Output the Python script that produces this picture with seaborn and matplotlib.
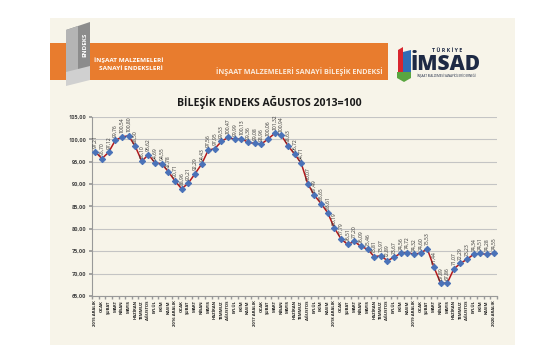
import numpy as np
import pandas as pd
import matplotlib.pyplot as plt
import seaborn as sns
from matplotlib.patches import Rectangle, Polygon

# bileşik endeks (Ağustos 2013=100), Aralık 2015 - Aralık 2020
index_values = [97.21, 95.70, 97.12, 99.76, 100.54, 100.80, 98.50, 95.10, 96.62, 94.69,
                94.55, 92.78, 90.71, 88.96, 90.21, 92.29, 94.43, 97.56, 97.95, 99.53,
                100.47, 99.99, 100.13, 99.36, 99.08, 98.96, 100.06, 101.32, 100.94, 98.63,
                96.72, 94.71, 90.07, 87.49, 85.65, 83.61, 80.19, 77.79, 76.51, 77.20,
                76.09, 75.46, 73.81, 73.97, 72.89, 73.67, 74.56, 74.72, 74.32, 74.60,
                75.53, 71.44, 67.89, 67.86, 71.07, 72.29, 73.23, 74.34, 74.51, 74.28,
                74.55]
years = [2015, 2016, 2017, 2018, 2019, 2020]
month_names = ["OCAK", "ŞUBAT", "MART", "NİSAN", "MAYIS", "HAZİRAN", "TEMMUZ",
               "AĞUSTOS", "EYLÜL", "EKİM", "KASIM"]
tick_labels = []
for y in years:
    tick_labels.append(f"{y} ARALIK")
    if y != years[-1]:
        tick_labels += month_names

y_ticks = [65, 70, 75, 80, 85, 90, 95, 100, 105]

df = pd.DataFrame({"idx": range(len(index_values)), "value": index_values})

sns.set_theme(style="white")
plt.rcParams['font.family'] = ['Open Sans', 'DejaVu Sans']

W, H = 555, 355
fig = plt.figure(figsize=(W / 100, H / 100), dpi=100)
fig.patch.set_facecolor('white')


def fx(px):
    return px / W


def fy(py):
    return 1 - py / H


def rect(x0, y0, x1, y1, color, z=0):
    fig.patches.append(Rectangle((fx(x0), fy(y1)), fx(x1) - fx(x0), fy(y0) - fy(y1),
                                 transform=fig.transFigure, color=color, zorder=z, lw=0))


def poly(pts, color, z=1):
    fig.patches.append(Polygon([(fx(a), fy(b)) for a, b in pts], closed=True,
                               transform=fig.transFigure, color=color, zorder=z, lw=0))


# slide background + header band
rect(50, 18, 515, 345, '#f7f4e9', z=-2)
rect(50, 43, 388, 80, '#e87c2e', z=-1)

# ENDEKS logo
poly([(66, 30), (90, 22), (90, 78), (66, 84)], '#8c8c8c', z=1)
poly([(66, 30), (78, 26), (78, 80), (66, 84)], '#b4b4b4', z=2)
poly([(66, 72), (90, 66), (90, 80), (66, 86)], '#d0d0d0', z=2)
fig.text(fx(85), fy(45), "ENDEKS", rotation=90, color='white', fontsize=4.5,
         fontweight='bold', ha='center', va='center', zorder=4)
fig.text(fx(129), fy(60), "İNŞAAT MALZEMELERİ", color='white', fontsize=4.6,
         fontweight='bold', ha='center', va='center', zorder=4)
fig.text(fx(131), fy(69), "SANAYİ ENDEKSLERİ", color='white', fontsize=4.6,
         fontweight='bold', ha='center', va='center', zorder=4)
fig.text(fx(299), fy(72), "İNŞAAT MALZEMELERİ SANAYİ BİLEŞİK ENDEKSİ", color='#fbe9d8',
         fontsize=5.2, fontweight='bold', ha='center', va='center', zorder=4)

# IMSAD logo
poly([(398, 50), (403, 47), (403, 72), (398, 72)], '#d8262e', z=1)
poly([(403, 52), (411, 50), (411, 72), (403, 72)], '#2f6db5', z=1)
poly([(397, 72), (411, 72), (411, 78), (404, 82), (397, 78)], '#5aa640', z=1)
fig.text(fx(447), fy(50), "T Ü R K İ Y E", color='#1e2a45', fontsize=3.8,
         fontweight='bold', ha='center', va='center')
fig.text(fx(446), fy(64), "İMSAD", color='#1e2a45', fontsize=15,
         fontweight='heavy', ha='center', va='center')
fig.text(fx(446), fy(76), "İNŞAAT MALZEMESİ SANAYİCİLERİ DERNEĞİ", color='#1e2a45',
         fontsize=2.2, ha='center', va='center')

fig.text(fx(269), fy(102), "BİLEŞİK ENDEKS AĞUSTOS 2013=100", color='#1a1a1a',
         fontsize=7.6, fontweight='bold', ha='center', va='center')

# chart
ax = fig.add_axes([fx(92), fy(296), fx(497) - fx(92), fy(117) - fy(296)])
ax.set_zorder(10)
ax.patch.set_alpha(0)
sns.lineplot(data=df, x="idx", y="value", ax=ax, color="#b3191c", lw=1.1,
             marker="D", markersize=3.2, markerfacecolor="#4a72b8",
             markeredgecolor="#4a72b8", zorder=3)

for i, v in enumerate(index_values):
    ax.annotate(f"{v:.2f}".replace('.', ','), (i, v), xytext=(0, 2.5),
                textcoords='offset points', rotation=90, ha='center', va='bottom',
                fontsize=3.6, color='#333333')

ax.set_xlim(-0.5, len(index_values) - 0.5)
ax.set_ylim(65, 105)
ax.set_yticks(y_ticks)
ax.set_yticklabels([f"{t:.2f}".replace('.', ',') for t in y_ticks],
                   fontsize=4, fontweight='bold', color='#444444')
ax.set_xticks(range(len(tick_labels)))
ax.set_xticklabels(tick_labels, rotation=90, fontsize=3.1, fontweight='bold',
                   color='#222222')
ax.set_xticks(np.arange(-0.5, len(tick_labels), 1), minor=True)
ax.tick_params(axis='x', which='major', length=0, pad=3)
ax.tick_params(axis='x', which='minor', bottom=True, length=2, color='#999999')
ax.tick_params(axis='y', left=True, length=2, color='#999999', pad=2)
ax.yaxis.grid(True, color='#c4c4c4', lw=0.8)
ax.set_axisbelow(True)
for s in ['top', 'right']:
    ax.spines[s].set_visible(False)
for s in ['left', 'bottom']:
    ax.spines[s].set_color('#999999')
    ax.spines[s].set_linewidth(0.8)
ax.set_xlabel("")
ax.set_ylabel("")

fig.savefig("out.png", dpi=100)
